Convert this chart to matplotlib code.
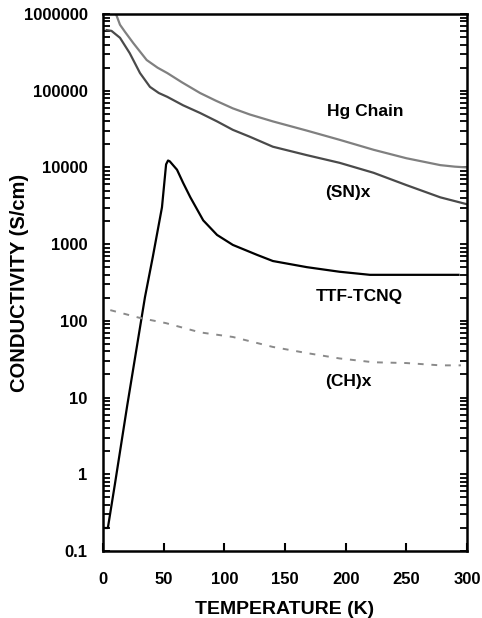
import matplotlib
matplotlib.use("Agg")
import matplotlib.pyplot as plt
from matplotlib.ticker import LogLocator, FixedLocator, NullFormatter, FixedFormatter
import numpy as np

plt.rcParams['font.family'] = ['Liberation Sans', 'DejaVu Sans']
plt.rcParams['font.weight'] = 'bold'

# Hg chain (log10 of conductivity)
hg_T = [10.7, 14, 18, 25, 36, 45, 53, 65, 80, 93, 107, 121, 140, 168, 195, 223, 250, 278, 290, 300]
hg_logS = [6.0, 5.86, 5.77, 5.62, 5.40, 5.30, 5.23, 5.11, 4.97, 4.87, 4.77, 4.69, 4.60, 4.48, 4.36, 4.23, 4.12, 4.03, 4.01, 4.0]

# (SN)x
sn_T = [3, 7, 14, 22, 30.5, 38.7, 46, 53, 66, 80, 94, 107, 121, 140, 168, 195, 223, 250, 278, 300]
sn_logS = [5.79, 5.78, 5.69, 5.49, 5.23, 5.05, 4.97, 4.92, 4.81, 4.71, 4.60, 4.49, 4.40, 4.27, 4.16, 4.06, 3.93, 3.77, 3.61, 3.52]

# TTF-TCNQ
ttf_T = [0, 4, 10, 20, 34.6, 41, 48.6, 52, 53.6, 55, 61, 66, 72, 82.6, 94, 107, 127, 140, 168, 195, 220, 293]
ttf_logS = [-0.70, -0.70, -0.11, 0.90, 2.31, 2.83, 3.48, 4.04, 4.09, 4.08, 3.97, 3.80, 3.61, 3.31, 3.12, 2.99, 2.86, 2.78, 2.70, 2.64, 2.60, 2.60]

# (CH)x
ch_T = [6, 30, 52, 80, 107, 140, 168, 195, 223, 250, 278, 295]
ch_logS = [2.14, 2.04, 1.97, 1.85, 1.79, 1.66, 1.58, 1.51, 1.46, 1.45, 1.42, 1.42]

labels = ["Hg Chain", "(SN)x", "TTF-TCNQ", "(CH)x"]
label_pos = [(216, 5.4e4), (202, 4.7e3), (211, 2.05e2), (202, 1.6e1)]

x_ticks = [0, 50, 100, 150, 200, 250, 300]
y_ticks = [0.1, 1, 10, 100, 1000, 10000, 100000, 1000000]
y_ticklabels = ["0.1", "1", "10", "100", "1000", "10000", "100000", "1000000"]

fig = plt.figure(figsize=(4.82, 6.18), dpi=100)
ax = fig.add_axes([103/482, 1-551/618, (467-103)/482, (551-14)/618])

to_s = lambda v: 10**np.array(v)
ax.plot(hg_T, to_s(hg_logS), color='#808080', lw=1.6)
ax.plot(sn_T, to_s(sn_logS), color='#4a4a4a', lw=1.6)
ax.plot(ttf_T, to_s(ttf_logS), color='#000000', lw=1.6)
ax.plot(ch_T, to_s(ch_logS), color='#8a8a8a', lw=1.4, linestyle=(0, (3, 4)))

for t, (x, y) in zip(labels, label_pos):
    ax.text(x, y, t, fontsize=12.5, fontweight='bold', ha='center', va='center')

ax.set_yscale('log')
ax.set_xlim(0, 300)
ax.set_ylim(0.1, 1e6)
ax.xaxis.set_major_locator(FixedLocator(x_ticks))
ax.set_xticklabels([str(v) for v in x_ticks])
ax.yaxis.set_major_locator(FixedLocator(y_ticks))
ax.yaxis.set_major_formatter(FixedFormatter(y_ticklabels))
ax.yaxis.set_minor_locator(LogLocator(base=10, subs=np.arange(2, 10), numticks=20))
ax.yaxis.set_minor_formatter(NullFormatter())

ax.tick_params(axis='x', direction='in', length=6, width=1.5, pad=15, labelsize=12, top=False)
ax.tick_params(axis='y', which='both', direction='in', length=5, width=1.3, left=True, right=True, pad=11, labelsize=12)
for s in ax.spines.values():
    s.set_linewidth(1.8)

ax.set_xlabel("TEMPERATURE (K)", fontsize=14, fontweight='bold', labelpad=10)
ax.set_ylabel("CONDUCTIVITY (S/cm)", fontsize=14.5, fontweight='bold', va='center')
ax.yaxis.set_label_coords((20-103)/364, 0.5)

fig.savefig("out.png", dpi=100)
